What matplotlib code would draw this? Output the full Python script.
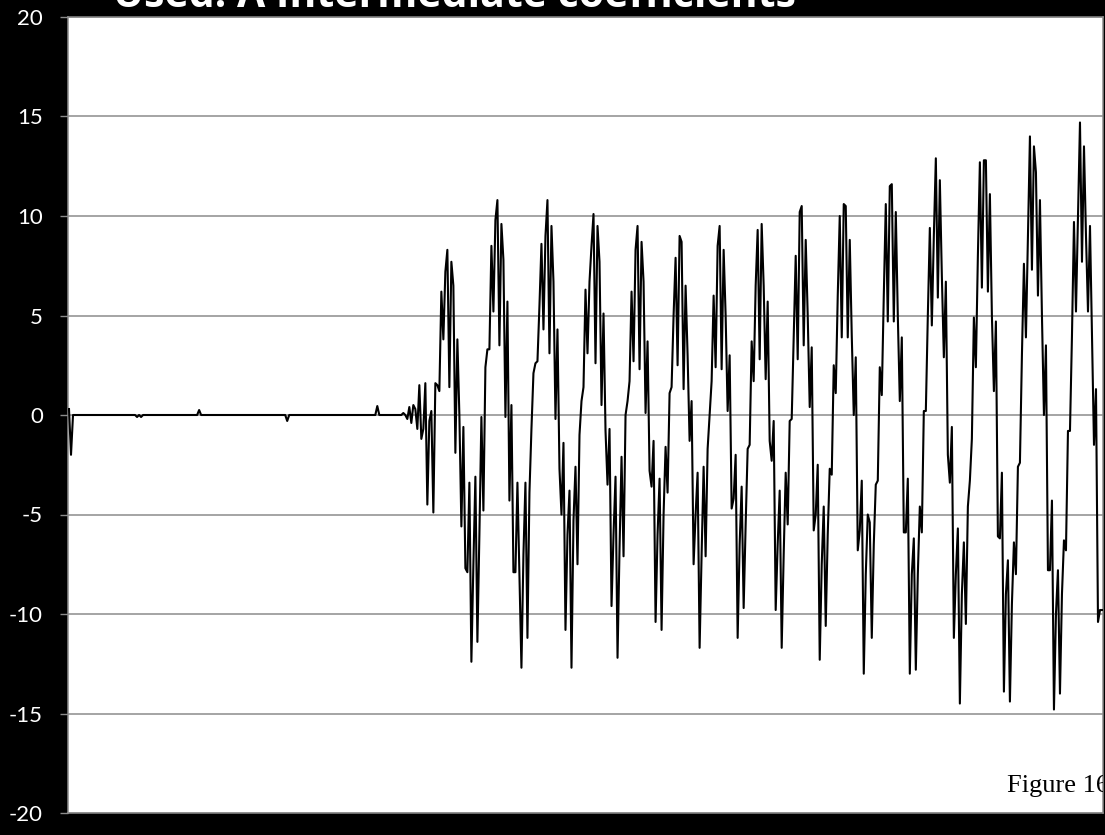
'''
Script to plot intermediate coefficients figure
'''

import matplotlib as mpl
import matplotlib.pyplot as plt
import numpy as np

#set plotting defaults
mpl.rcParams['font.family'] = ['Lato', 'DejaVu Sans']
mpl.rcParams['axes.unicode_minus'] = False

#flat start of the signal (one value per sample)
flat_part = [
	0.3, -2.0, 0, 0, 0, 0, 0, 0, 0, 0, 0, 0, 0, 0, 0, 0, 0, 0, 0, 0,
	0, 0, 0, 0, 0, 0, 0, 0, 0, 0, 0, 0, 0, 0, -0.1, 0, -0.1, 0, 0, 0,
	0, 0, 0, 0, 0, 0, 0, 0, 0, 0, 0, 0, 0, 0, 0, 0, 0, 0, 0, 0,
	0, 0, 0, 0, 0, 0.25, 0, 0, 0, 0, 0, 0, 0, 0, 0, 0, 0, 0, 0, 0,
	0, 0, 0, 0, 0, 0, 0, 0, 0, 0, 0, 0, 0, 0, 0, 0, 0, 0, 0, 0,
	0, 0, 0, 0, 0, 0, 0, 0, 0, -0.3, 0, 0, 0, 0, 0, 0, 0, 0, 0, 0,
	0, 0, 0, 0, 0, 0, 0, 0, 0, 0, 0, 0, 0, 0, 0, 0, 0, 0, 0, 0,
	0, 0, 0, 0, 0, 0, 0, 0, 0, 0, 0, 0, 0, 0, 0.45, 0, 0, 0, 0, 0,
	0, 0, 0, 0, 0, 0, 0]

#oscillating part of the signal
osc_part = [
	0.1, 0.0, -0.2, 0.4, -0.4, 0.5, 0.3, -0.7, 1.5, -1.2,
	-0.7, 1.6, -4.5, -0.3, 0.2, -4.9, 1.6, 1.5, 1.2, 6.2,
	3.8, 7.2, 8.3, 1.4, 7.7, 6.5, -1.9, 3.8, 0.0, -5.6,
	-0.6, -7.7, -7.9, -3.4, -12.4, -7.5, -3.1, -11.4, -6.0, -0.1,
	-4.8, 2.4, 3.3, 3.3, 8.5, 5.2, 9.8, 10.8, 3.5, 9.6,
	7.8, -0.1, 5.7, -4.3, 0.5, -7.9, -7.9, -3.4, -8.0, -12.7,
	-7.0, -3.4, -11.2, -3.9, -0.7, 2.1, 2.6, 2.7, 5.5, 8.6,
	4.3, 9.0, 10.8, 3.1, 9.5, 6.7, -0.2, 4.3, -2.7, -5.0,
	-1.4, -10.8, -6.0, -3.8, -12.7, -5.3, -2.6, -7.5, -1.0, 0.7,
	1.4, 6.3, 3.1, 6.7, 8.5, 10.1, 2.6, 9.5, 7.7, 0.5,
	5.1, -0.8, -3.5, -0.7, -9.6, -6.0, -3.1, -12.2, -6.7, -2.1,
	-7.1, 0.0, 0.7, 1.7, 6.2, 2.7, 8.3, 9.5, 2.3, 8.7,
	6.7, 0.1, 3.7, -2.8, -3.6, -1.3, -10.4, -6.0, -3.2, -10.8,
	-5.0, -1.6, -3.9, 1.1, 1.4, 5.0, 7.9, 2.5, 9.0, 8.7,
	1.3, 6.5, 3.0, -1.3, 0.7, -7.5, -5.0, -2.9, -11.7, -7.0,
	-2.6, -7.1, -1.7, 0.0, 1.7, 6.0, 2.4, 8.5, 9.5, 2.3,
	8.3, 5.0, 0.2, 3.0, -4.7, -4.2, -2.0, -11.2, -6.5, -3.6,
	-9.7, -5.5, -1.7, -1.5, 3.7, 1.7, 6.5, 9.3, 2.8, 9.6,
	6.5, 1.8, 5.7, -1.3, -2.3, -0.3, -9.8, -6.5, -3.8, -11.7,
	-7.0, -2.9, -5.5, -0.3, -0.2, 4.0, 8.0, 2.8, 10.2, 10.5,
	3.5, 8.8, 5.0, 0.4, 3.4, -5.8, -5.0, -2.5, -12.3, -7.5,
	-4.6, -10.6, -6.0, -2.7, -3.0, 2.5, 1.1, 6.0, 10.0, 3.9,
	10.6, 10.5, 3.9, 8.8, 4.0, 0.0, 2.9, -6.8, -5.8, -3.3,
	-13.0, -8.0, -5.0, -5.4, -11.2, -6.5, -3.5, -3.3, 2.4, 1.0,
	6.0, 10.6, 4.7, 11.5, 11.6, 4.7, 10.2, 5.0, 0.7, 3.9,
	-5.9, -5.9, -3.2, -13.0, -8.0, -6.2, -12.8, -8.0, -4.6, -5.9,
	0.2, 0.2, 5.0, 9.4, 4.5, 9.0, 12.9, 5.9, 11.8, 7.0,
	2.9, 6.7, -2.0, -3.4, -0.6, -11.2, -8.0, -5.7, -14.5, -9.0,
	-6.4, -10.5, -4.6, -3.3, -1.2, 4.9, 2.4, 8.0, 12.7, 6.4,
	12.8, 12.8, 6.2, 11.1, 5.0, 1.2, 4.7, -6.1, -6.2, -2.9,
	-13.9, -9.0, -7.3, -14.4, -9.5, -6.4, -8.0, -2.6, -2.4, 3.0,
	7.6, 3.9, 9.0, 14.0, 7.3, 13.5, 12.2, 6.0, 10.8, 5.0,
	0.0, 3.5, -7.8, -7.8, -4.3, -14.8, -10.0, -7.8, -14.0, -9.0,
	-6.3, -6.8, -0.8, -0.8, 4.0, 9.7, 5.2, 10.0, 14.7, 7.7,
	13.5, 9.0, 5.2, 9.5, 4.0, -1.5, 1.3, -10.4, -9.8, -9.8]

coef = np.array(flat_part + osc_part)
samples = np.arange(len(coef))

y_ticks = [-20, -15, -10, -5, 0, 5, 10, 15, 20]
title = 'Used: A Intermediate coefficients'
note = 'Figure 16'

# make plot
W, H = 1105, 835
fig = plt.figure(figsize=(W/100, H/100), dpi=100, facecolor='black')
ax = fig.add_axes([68/W, 22/H, 1035/W, 796/H])
ax.set_facecolor('white')

ax.plot(samples, coef, color='black', linewidth=1.5, zorder=3)

#axis limits and ticks
ax.set_xlim(-0.5, len(coef) - 0.5)
ax.set_ylim(-20, 20)
ax.set_yticks(y_ticks)
ax.set_yticklabels([str(t) for t in y_ticks])
ax.set_xticks([])
ax.tick_params(axis='y', colors='#8c8c8c', labelcolor='white',
	labelsize=16, length=6, width=1, pad=12)

#gridlines and frame
ax.set_axisbelow(True)
ax.yaxis.grid(True, color='#8c8c8c', linewidth=1.1)
for s in ax.spines.values():
	s.set_color('#8c8c8c')
	s.set_linewidth(1.1)

#title cut off at the top edge
fig.text(113/W, 1 - 7/H, title, color='white', fontsize=29.5,
	fontweight='bold', family=['Open Sans', 'DejaVu Sans'],
	ha='left', va='baseline')

#figure label, clipped by the plot area
ax.text(1007/W, 1 - 792/H, note, transform=fig.transFigure,
	family=['Liberation Serif', 'DejaVu Serif'], fontsize=19,
	color='black', ha='left', va='baseline', clip_on=True)

#save figure
fig.savefig('out.png', dpi=100, facecolor='black')
